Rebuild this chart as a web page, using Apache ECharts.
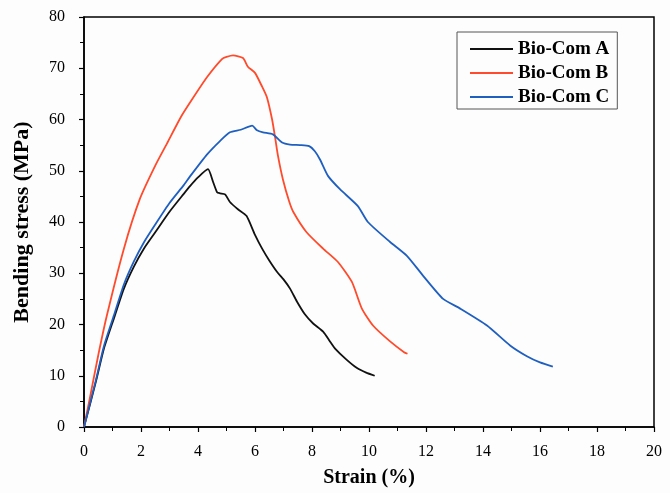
<!DOCTYPE html>
<html><head><meta charset="utf-8">
<script src="https://cdn.jsdelivr.net/npm/echarts@6/dist/echarts.min.js"></script>
<style>html,body{margin:0;padding:0;background:#fdfdfd}#c{width:670px;height:493px}</style>
</head><body><div id="c"></div>
<script>
const seriesNames = ['Bio-Com A', 'Bio-Com B', 'Bio-Com C'];
const xTicks = [0, 2, 4, 6, 8, 10, 12, 14, 16, 18, 20];
const yTicks = [0, 10, 20, 30, 40, 50, 60, 70, 80];

const strainA = [0, 0.42, 0.7, 1.05, 1.4, 1.75, 2.1, 2.5, 3.0, 3.5, 3.72, 4.0, 4.35, 4.53, 4.67, 4.77, 4.95, 5.12, 5.4, 5.7, 6.0, 6.25, 6.5, 6.77, 7.0, 7.23, 7.47, 7.75, 8.04, 8.39, 8.63, 8.81, 9.2, 9.58, 9.9, 10.2];
const stressA = [0, 8.9, 15.3, 21.2, 27, 31.3, 34.8, 38, 42, 45.5, 47, 48.7, 50.3, 47.8, 45.8, 45.6, 45.4, 43.9, 42.5, 41.2, 37.5, 34.8, 32.5, 30.3, 28.8, 27, 24.5, 22, 20.2, 18.6, 16.7, 15.3, 13.2, 11.5, 10.6, 10.0];

const strainB = [0, 0.2, 0.5, 0.8, 1.4, 1.96, 2.5, 2.91, 3.4, 3.8, 4.32, 4.84, 5.0, 5.23, 5.58, 5.75, 6.0, 6.25, 6.42, 6.6, 6.7, 6.81, 6.98, 7.2, 7.35, 7.81, 8.39, 8.91, 9.4, 9.75, 10.14, 10.74, 11.23, 11.35];
const stressB = [0, 5.5, 14, 21.7, 34.8, 44.5, 51, 55.3, 60.5, 64, 68.3, 71.8, 72.2, 72.5, 72, 70.3, 69.1, 66.4, 64.3, 60, 56.7, 52.8, 48.3, 44, 41.9, 38, 34.8, 32.2, 28.3, 23.1, 19.8, 16.7, 14.6, 14.3];

const strainC = [0, 0.42, 0.7, 1.05, 1.4, 1.75, 2.1, 2.5, 3.0, 3.5, 3.72, 4.32, 4.77, 5.12, 5.5, 5.9, 6.07, 6.28, 6.63, 6.95, 7.23, 7.58, 7.9, 8.1, 8.28, 8.56, 8.98, 9.61, 9.96, 10.74, 11.33, 11.9, 12.6, 13.2, 14.14, 14.95, 15.54, 16.0, 16.45];
const stressC = [0, 9.2, 15.8, 21.8, 27.8, 32.3, 36, 39.5, 43.7, 47.2, 48.9, 53.2, 55.8, 57.5, 58, 58.8, 57.9, 57.5, 57.1, 55.5, 55.1, 55, 54.8, 53.8, 52.2, 49, 46.4, 43.1, 40, 36.1, 33.4, 29.5, 25, 23.1, 19.8, 15.9, 13.8, 12.6, 11.8];

const colors = ['#111111', '#ff4b2b', '#1f5fc0'];
function pairs(xs, ys) { return xs.map((x, i) => [x, ys[i]]); }
const dataSets = [pairs(strainA, stressA), pairs(strainB, stressB), pairs(strainC, stressC)];

const font = "'Liberation Serif', 'Times New Roman', serif";
const chart = echarts.init(document.getElementById('c'), null, {renderer: 'canvas'});
chart.setOption({
  backgroundColor: '#fdfdfd',
  animation: false,
  grid: {left: 84, right: 16, top: 17, bottom: 64, show: true, borderColor: '#000', borderWidth: 1.5, backgroundColor: 'transparent'},
  legend: {
    data: seriesNames, orient: 'vertical', left: 457, top: 32,
    padding: [7, 8, 2, 13], itemGap: 4, itemWidth: 43, itemHeight: 2, icon: 'rect',
    borderColor: '#555', borderWidth: 1, backgroundColor: '#fdfdfd',
    textStyle: {fontFamily: font, fontWeight: 'bold', fontSize: 19, color: '#000', lineHeight: 20}
  },
  xAxis: {
    type: 'value', min: xTicks[0], max: xTicks[xTicks.length - 1], interval: 2,
    name: 'Strain (%)', nameLocation: 'middle', nameGap: 41,
    nameTextStyle: {fontFamily: font, fontWeight: 'bold', fontSize: 20, color: '#000'},
    axisLine: {show: true, onZero: false, lineStyle: {color: '#000', width: 1.5}},
    axisTick: {show: true, inside: false, length: 5, lineStyle: {color: '#000', width: 1.2}},
    minorTick: {show: true, splitNumber: 2, length: 4, lineStyle: {color: '#000', width: 1}},
    axisLabel: {fontFamily: font, fontSize: 16, color: '#000', margin: 17},
    splitLine: {show: false}
  },
  yAxis: {
    type: 'value', min: yTicks[0], max: yTicks[yTicks.length - 1], interval: 10,
    name: 'Bending stress (MPa)', nameLocation: 'middle', nameGap: 51,
    nameTextStyle: {fontFamily: font, fontWeight: 'bold', fontSize: 22, color: '#000'},
    axisLine: {show: true, onZero: false, lineStyle: {color: '#000', width: 1.5}},
    axisTick: {show: true, inside: false, length: 5, lineStyle: {color: '#000', width: 1.2}},
    minorTick: {show: true, splitNumber: 2, length: 4, lineStyle: {color: '#000', width: 1}},
    axisLabel: {fontFamily: font, fontSize: 16, color: '#000', margin: 19},
    splitLine: {show: false}
  },
  series: seriesNames.map((n, i) => ({
    name: n, type: 'line', data: dataSets[i], showSymbol: false, symbol: 'none',
    smooth: 0.2, color: colors[i], lineStyle: {width: 1.8, color: colors[i]}
  }))
});
</script></body></html>
